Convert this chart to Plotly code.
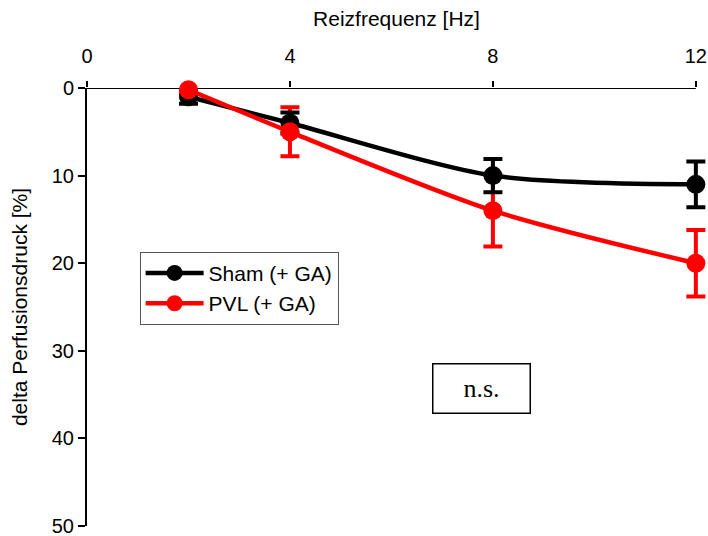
import plotly.graph_objects as go

# Stimulation frequency (Hz) and change in perfusion pressure (%)
freq = [2, 4, 8, 12]
sham_mean = [1.0, 4.0, 10.0, 11.0]
sham_err = [0.8, 1.2, 1.9, 2.6]
pvl_mean = [0.2, 5.0, 14.0, 20.0]
pvl_err = [0.5, 2.8, 4.1, 3.8]

series_names = ["Sham (+ GA)", "PVL (+ GA)"]
x_ticks = [0, 4, 8, 12]
y_ticks = [0, 10, 20, 30, 40, 50]

series = [
    (series_names[0], sham_mean, sham_err, "black"),
    (series_names[1], pvl_mean, pvl_err, "#ff0000"),
]

fig = go.Figure()

# error bars first, so that every marker sits on top of them
for name, mean, err, color in reversed(series):
    fig.add_trace(go.Scatter(
        x=freq, y=mean, mode="markers", showlegend=False, hoverinfo="skip",
        cliponaxis=False,
        marker=dict(size=1, opacity=0, color=color),
        error_y=dict(type="data", array=err, visible=True,
                     color=color, thickness=4, width=9.5),
    ))

for name, mean, err, color in series:
    fig.add_trace(go.Scatter(
        x=freq, y=mean, name=name,
        mode="lines+markers",
        cliponaxis=False,
        line=dict(color=color, width=4.5, shape="spline", smoothing=0.8),
        marker=dict(color=color, size=19, symbol="circle"),
    ))

sans = "Liberation Sans, Arial, sans-serif"
axis_font = dict(family=sans, size=21, color="black")
tick_font = dict(family=sans, size=20, color="black")

x_max = 12
fig.update_layout(
    width=708, height=536,
    margin=dict(l=87, r=2, t=88, b=10),
    paper_bgcolor="white", plot_bgcolor="white",
    font=axis_font,
    showlegend=True,
    legend=dict(
        x=0.085, y=0.626, xanchor="left", yanchor="top",
        bordercolor="#555555", borderwidth=1, bgcolor="white",
        font=dict(family=sans, size=21, color="black"),
        tracegroupgap=0, itemwidth=58,
    ),
    xaxis=dict(
        side="top", range=[0, x_max + 0.2], tickvals=x_ticks,
        showline=False,
        ticks="outside", ticklen=6, tickwidth=2, tickcolor="black",
        ticklabelstandoff=10,
        showgrid=False, zeroline=False, automargin=False,
        title=dict(text="Reizfrequenz [Hz]", font=axis_font, standoff=12),
        tickfont=tick_font,
    ),
    yaxis=dict(
        range=[50, 0], tickvals=y_ticks,
        showline=True, linecolor="black", linewidth=2,
        ticks="outside", ticklen=7, tickwidth=2, tickcolor="black",
        showgrid=False, zeroline=False, automargin=False,
        ticklabeloverflow="allow",
        title=dict(text="delta Perfusionsdruck [%]", font=axis_font, standoff=18),
        tickfont=tick_font,
    ),
    # top axis line stops at the last frequency tick
    shapes=[dict(type="line", xref="x", yref="y", x0=0, x1=x_max, y0=0, y1=0,
                 line=dict(color="black", width=2), layer="below")],
    annotations=[dict(
        x=7.77, y=34.3, xref="x", yref="y",
        text="n.s.", showarrow=False,
        font=dict(family="Liberation Serif, Times New Roman, serif", size=26, color="black"),
        bordercolor="black", borderwidth=1.5, borderpad=4,
        width=88, height=40, bgcolor="white",
    )],
)

fig.write_html("out.html")
